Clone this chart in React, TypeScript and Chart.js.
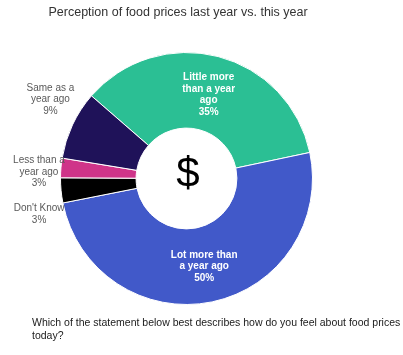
import React, { useEffect, useRef } from 'react';
import { Chart, registerables } from 'chart.js';

Chart.register(...registerables);

const TITLE = 'Perception of food prices last year vs. this year';
const CAPTION_LINES = [
  'Which of the statement below best describes how do you feel about food prices',
  'today?',
];
const CENTER_SYMBOL = '$';

// Categories (label lines as wrapped in the reference)
const categories: string[][] = [
  ['Little more', 'than a year', 'ago'],
  ['Lot more than', 'a year ago'],
  ["Don't Know"],
  ['Less than a', 'year ago'],
  ['Same as a', 'year ago'],
];
// Share of respondents (%)
const values: number[] = [35.3, 50.2, 3.2, 2.5, 8.8];
const colors: string[] = ['#2bbf94', '#4159c9', '#000000', '#cf3489', '#1f1259'];

// Label layout (not data)
const labelInside: boolean[] = [true, true, false, false, false];
const outsideNudge: number[][] = [[0, 0], [0, 0], [-22, 24], [-22, 4], [-22, -25.5]];

const FONT = '"Liberation Sans", Arial, sans-serif';

const labelPlugin = {
  id: 'customLabels',
  afterDraw(chart: any) {
    const ctx = chart.ctx as CanvasRenderingContext2D;
    const meta = chart.getDatasetMeta(0);
    const total = values.reduce((a, b) => a + b, 0);
    ctx.save();
    ctx.textAlign = 'center';
    ctx.textBaseline = 'middle';
    let cx0 = 0;
    let cy0 = 0;
    meta.data.forEach((arc: any, i: number) => {
      const p = arc.getProps(['x', 'y', 'startAngle', 'endAngle', 'outerRadius', 'innerRadius'], true);
      cx0 = p.x;
      cy0 = p.y;
      const mid = (p.startAngle + p.endAngle) / 2;
      const pct = Math.round((values[i] / total) * 100) + '%';
      const lines = [...categories[i], pct];
      let lx: number;
      let ly: number;
      if (labelInside[i]) {
        const r = (p.innerRadius + p.outerRadius) / 2;
        lx = p.x + Math.cos(mid) * r;
        ly = p.y + Math.sin(mid) * r + 1.5;
        ctx.font = `bold 10px ${FONT}`;
        ctx.fillStyle = '#ffffff';
      } else {
        lx = p.x + Math.cos(mid) * p.outerRadius + outsideNudge[i][0];
        ly = p.y + Math.sin(mid) * p.outerRadius + outsideNudge[i][1];
        ctx.font = `10px ${FONT}`;
        ctx.fillStyle = '#595959';
      }
      const lh = 11.6;
      lines.forEach((t, k) => {
        ctx.fillText(t, lx, ly + (k - (lines.length - 1) / 2) * lh);
      });
    });

    // center symbol
    ctx.font = `42px ${FONT}`;
    ctx.fillStyle = '#000000';
    ctx.textBaseline = 'alphabetic';
    ctx.fillText(CENTER_SYMBOL, cx0 + 1.5, cy0 + 8);

    // title
    ctx.textAlign = 'left';
    ctx.font = `12.5px ${FONT}`;
    ctx.fillStyle = '#333333';
    ctx.fillText(TITLE, 48.5, 15.5);

    // caption
    ctx.font = `10.5px ${FONT}`;
    ctx.fillStyle = '#1a1a1a';
    CAPTION_LINES.forEach((t, k) => ctx.fillText(t, 32, 326 + k * 12.5));
    ctx.restore();
  },
};

export default function App() {
  const ref = useRef<HTMLCanvasElement | null>(null);
  useEffect(() => {
    document.body.style.margin = '0';
    if (!ref.current) return;
    const chart = new Chart(ref.current, {
      type: 'doughnut',
      data: {
        labels: categories.map((c) => c.join(' ')),
        datasets: [
          {
            data: values,
            backgroundColor: colors,
            borderColor: '#ffffff',
            borderWidth: 1,
          },
        ],
      },
      options: {
        responsive: false,
        animation: false,
        devicePixelRatio: 1,
        rotation: -49,
        cutout: '40%',
        layout: { padding: { left: 60, top: 52, right: 90, bottom: 50 } },
        plugins: {
          legend: { display: false },
          tooltip: { enabled: false },
          title: { display: false },
        },
      },
      plugins: [labelPlugin],
    });
    return () => chart.destroy();
  }, []);
  return (
    <div style={{ position: 'absolute', left: 0, top: 0, width: 403, height: 355, background: '#fff' }}>
      <canvas ref={ref} width={403} height={355} style={{ width: 403, height: 355, display: 'block' }} />
    </div>
  );
}
